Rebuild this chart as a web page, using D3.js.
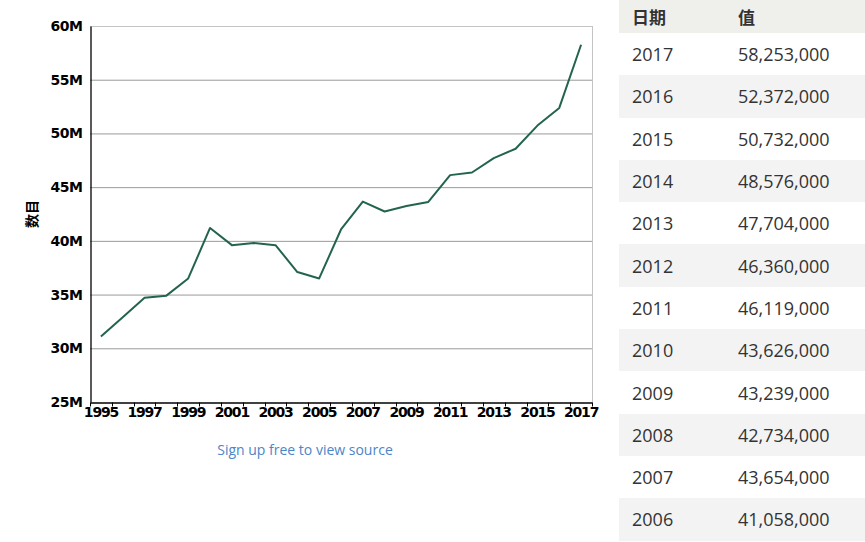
<!DOCTYPE html>
<html>
<head>
<meta charset="utf-8">
<script src="https://cdn.jsdelivr.net/npm/d3@7"></script>
<style>
  html, body { margin: 0; padding: 0; background: #fff; }
  body { width: 865px; height: 542px; position: relative; overflow: hidden; }
  #chart { position: absolute; left: 0; top: 0; }
  #tbl { position: absolute; left: 619px; top: 0; width: 260px; border-collapse: collapse;
         font-family: "Open Sans", "Noto Sans CJK SC", sans-serif; font-size: 18px; color: #333; }
  #tbl th, #tbl td { padding: 0; text-align: left; white-space: nowrap; }
  #tbl th { height: 33px; font-weight: bold; background: #efefeb; font-family: "Noto Sans CJK SC", sans-serif; font-size: 17px; }
  #tbl td { height: 42.3px; }
  #tbl .c1 { padding-left: 13px; width: 106px; }
  #tbl tr.alt td { background: #f3f3f3; }
</style>
</head>
<body>
<svg id="chart" width="865" height="542"></svg>
<table id="tbl"></table>
<script>
const years = [1995,1996,1997,1998,1999,2000,2001,2002,2003,2004,2005,2006,2007,2008,2009,2010,2011,2012,2013,2014,2015,2016,2017];
const values = [31.1,32.9,34.7,34.9,36.5,41.2,39.6,39.8,39.6,37.1,36.5,41.058,43.654,42.734,43.239,43.626,46.119,46.36,47.704,48.576,50.732,52.372,58.253];
const yTicks = [25,30,35,40,45,50,55,60];
const tableYears = [2017,2016,2015,2014,2013,2012,2011,2010,2009,2008,2007,2006];
const tableValues = [58253000,52372000,50732000,48576000,47704000,46360000,46119000,43626000,43239000,42734000,43654000,41058000];
const headers = ["日期","值"];
const yTitle = "数目";
const footer = "Sign up free to view source";

const L = 90, R = 592, T = 26, B = 402;
const svg = d3.select("#chart");
const x = d3.scaleBand().domain(years).range([L, R]).padding(0);
const y = d3.scaleLinear().domain([25, 60]).range([B, T]);

// gridlines
svg.append("g").selectAll("line").data(yTicks.filter(d => d > 25 && d < 60)).join("line")
  .attr("x1", L).attr("x2", R).attr("y1", d => y(d) + 0.5).attr("y2", d => y(d) + 0.5)
  .attr("stroke", "#9a9a9a").attr("stroke-width", 1);
// frame top/right
svg.append("line").attr("x1", L).attr("x2", R + 0.5).attr("y1", y(60) + 0.5).attr("y2", y(60) + 0.5).attr("stroke", "#c4c4c4");
svg.append("line").attr("x1", R + 0.5).attr("x2", R + 0.5).attr("y1", y(60)).attr("y2", B).attr("stroke", "#c4c4c4");

// y axis
const yAxis = d3.axisLeft(y).tickValues(yTicks).tickSize(0).tickPadding(8).tickFormat(d => d + "M");
const gy = svg.append("g").attr("transform", `translate(${L + 0.5},0)`).call(yAxis);
gy.select(".domain").attr("stroke", "#000").attr("stroke-width", 1.3);
gy.selectAll("text").attr("font-family", "DejaVu Sans, sans-serif").attr("font-weight", "bold")
  .attr("font-size", 14).attr("letter-spacing", "-0.5px").attr("fill", "#000");

// x axis
const xAxis = d3.axisBottom(x).tickSize(0).tickPadding(5).tickFormat(d => (d - 1995) % 2 === 0 ? d : "");
const gx = svg.append("g").attr("transform", `translate(0,${B + 0.5})`).call(xAxis);
gx.select(".domain").attr("stroke", "#000").attr("stroke-width", 1.3);
gx.selectAll("text").attr("font-family", "DejaVu Sans, sans-serif").attr("font-weight", "bold")
  .attr("font-size", 14).attr("letter-spacing", "-1.2px").attr("fill", "#000");
// boundary ticks
const edges = years.map(d => x(d)).concat([x(years[years.length - 1]) + x.bandwidth()]);
gx.append("g").selectAll("line").data(edges).join("line")
  .attr("x1", d => Math.round(d) + 0.5).attr("x2", d => Math.round(d) + 0.5)
  .attr("y1", 0).attr("y2", 4).attr("stroke", "#000");

// y title
svg.append("text").attr("transform", `translate(37,${(T + B) / 2}) rotate(-90)`)
  .attr("text-anchor", "middle").attr("font-family", "Noto Sans CJK SC, sans-serif")
  .attr("font-weight", "bold").attr("font-size", 14).attr("fill", "#000").text(yTitle);

// line
const line = d3.line().x((d, i) => x(years[i]) + x.bandwidth() / 2).y(d => y(d));
svg.append("path").datum(values).attr("d", line).attr("fill", "none")
  .attr("stroke", "#23644e").attr("stroke-width", 2).attr("stroke-linejoin", "round");

// footer
svg.append("text").attr("x", 305).attr("y", 455).attr("text-anchor", "middle")
  .attr("font-family", "Open Sans, sans-serif").attr("font-size", 14).attr("fill", "#4a86c8").text(footer);

// table
const tbl = d3.select("#tbl");
tbl.append("tr").selectAll("th").data(headers).join("th").attr("class", (d, i) => i === 0 ? "c1" : null).text(d => d);
const fmt = d3.format(",");
tbl.selectAll("tr.row").data(tableYears).join("tr").attr("class", (d, i) => "row" + (i % 2 === 1 ? " alt" : ""))
  .each(function(d, i) {
    const tr = d3.select(this);
    tr.append("td").attr("class", "c1").text(d);
    tr.append("td").text(fmt(tableValues[i]));
  });
</script>
</body>
</html>
